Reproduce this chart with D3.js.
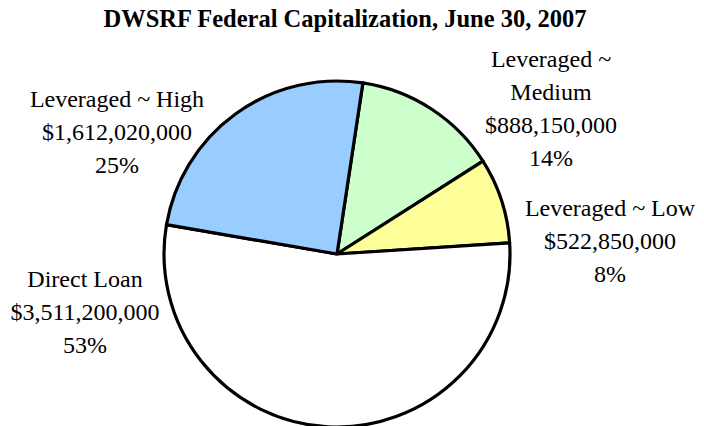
<!DOCTYPE html>
<html>
<head>
<meta charset="utf-8">
<script src="https://cdn.jsdelivr.net/npm/d3@7"></script>
<style>
  body { margin: 0; background: #fff; }
</style>
</head>
<body>
<div id="chart"></div>
<script>
// Slice data, in drawing order (clockwise from the top)
const categories = ['Leveraged ~ Medium', 'Leveraged ~ Low', 'Direct Loan', 'Leveraged ~ High'];
const amounts = [888150000, 522850000, 3511200000, 1612020000];
const percents = [14, 8, 53, 25];
const colors = ['#ccffcc', '#ffff99', '#ffffff', '#99ccff'];
// label lines for the name part (Medium wraps in the original)
const nameLines = [['Leveraged ~', 'Medium'], ['Leveraged ~ Low'], ['Direct Loan'], ['Leveraged ~ High']];

const width = 704, height = 426;
const cx = 337, cy = 254, radius = 173;
const serif = "'Liberation Serif', 'DejaVu Serif', 'Times New Roman', serif";

const svg = d3.select('#chart').append('svg')
    .attr('width', width)
    .attr('height', height)
    .style('font-family', serif);

svg.append('text')
    .attr('x', 345)
    .attr('y', 27)
    .attr('text-anchor', 'middle')
    .attr('font-family', serif)
    .attr('font-size', '24.5px')
    .attr('font-weight', 'bold')
    .text('DWSRF Federal Capitalization, June 30, 2007');

const start = 8.6 * Math.PI / 180;

const pie = d3.pie().sort(null)
    .startAngle(start)
    .endAngle(start + 2 * Math.PI);

const arc = d3.arc().innerRadius(0).outerRadius(radius);

const data = pie(amounts);

const g = svg.append('g').attr('transform', `translate(${cx},${cy})`);

g.selectAll('path')
    .data(data)
    .enter()
    .append('path')
    .attr('d', arc)
    .attr('fill', (d, i) => colors[i])
    .attr('stroke', '#000')
    .attr('stroke-width', 3.2)
    .attr('stroke-linejoin', 'round');

// label anchor positions (centre x, first baseline)
const labelPos = [[551, 67], [610, 216], [85, 287], [117, 107]];
const fmtMoney = d3.format('$,');
const lineH = 33;

data.forEach((d, i) => {
    const lines = nameLines[i].concat([fmtMoney(amounts[i]), percents[i] + '%']);
    const t = svg.append('text')
        .attr('text-anchor', 'middle')
        .attr('font-family', serif)
        .attr('font-size', '24px');
    lines.forEach((s, k) => {
        t.append('tspan')
            .attr('x', labelPos[i][0])
            .attr('y', labelPos[i][1] + k * lineH)
            .text(s);
    });
});
</script>
</body>
</html>
